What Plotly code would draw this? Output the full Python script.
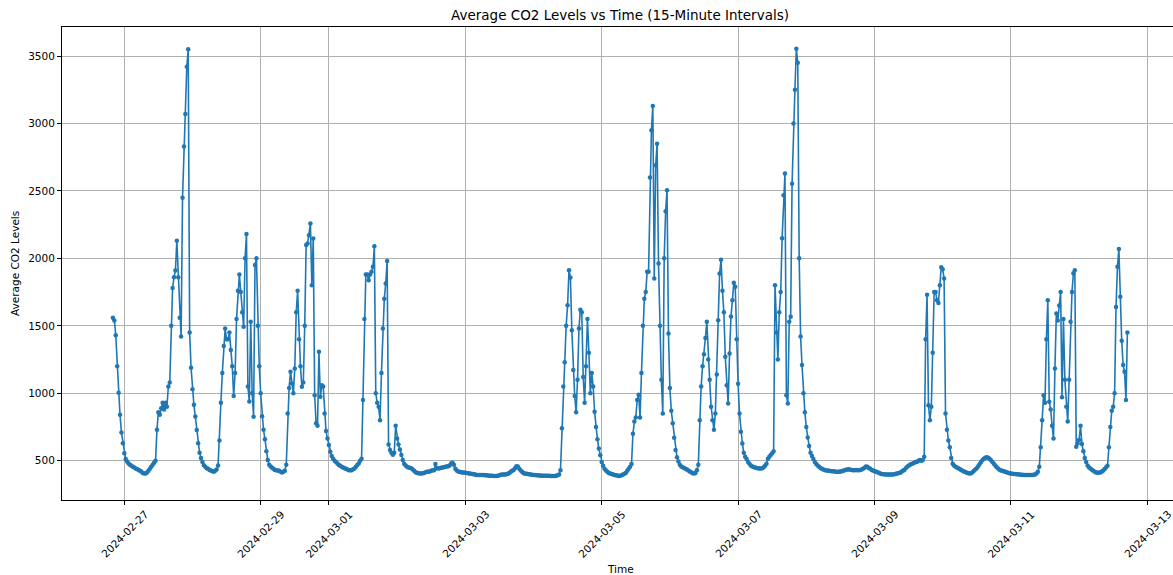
import pandas as pd
import plotly.graph_objects as go

# Average CO2 values at 30-minute steps, starting 2024-02-26 20:00
feb26 = [1560, 1540, 1430, 1200, 1004, 840, 710, 630]
feb27 = [555, 512, 495, 480, 470, 462, 455, 450, 443, 438,
         432, 425, 420, 410, 405, 405, 412, 425, 440, 455,
         470, 485, 500, 730, 860, 840, 890, 930, 880, 930,
         900, 1050, 1080, 1500, 1780, 1860, 1910, 2130, 1860, 1560,
         1420, 2450, 2830, 3070, 3420, 3550, 1450, 1190]
feb28 = [1030, 915, 827, 727, 630, 560, 520, 490, 466, 455,
         445, 440, 432, 428, 422, 418, 425, 435, 465, 650,
         930, 1150, 1350, 1480, 1400, 1400, 1450, 1320, 1200, 980,
         1150, 1550, 1760, 1880, 1750, 1600, 1493, 2000, 2180, 1050,
         940, 1530, 1000, 826, 1950, 2000, 1500, 1200]
feb29 = [1000, 830, 730, 660, 570, 505, 470, 458, 448, 440,
         432, 430, 427, 425, 418, 412, 418, 426, 470, 850,
         1040, 1160, 1073, 1000, 1184, 1600, 1760, 1400, 1200, 1048,
         1080, 1500, 2100, 2110, 2172, 2258, 1800, 2147, 986, 777,
         760, 1307, 974, 1060, 1050, 850, 720, 665]
mar01 = [616, 567, 535, 515, 500, 490, 480, 468, 462, 455,
         450, 445, 440, 435, 430, 430, 430, 437, 443, 455,
         468, 480, 500, 515, 950, 1550, 1880, 1880, 1838, 1880,
         1900, 1937, 2090, 1000, 930, 900, 800, 1150, 1480, 1700,
         1814, 1980, 620, 579, 560, 545, 560, 760]
mar02 = [665, 620, 584, 542, 505, 478, 465, 455, 450, 448,
         445, 435, 425, 415, 411, 408, 406, 406, 408, 410,
         415, 418, 418, 420, 425, 430, 430, 475, 445, 443,
         445, 448, 450, 452, 455, 458, 460, 465, 480, 485,
         470, 440, 428, 420, 418, 415, 413, 412]
mar03 = [411, 410, 408, 406, 404, 402, 400, 398, 395, 394,
         394, 394, 394, 394, 393, 392, 390, 389, 389, 388,
         387, 386, 386, 388, 392, 396, 398, 398, 398, 400,
         404, 410, 418, 425, 432, 445, 460, 458, 440, 428,
         418, 408, 405, 403, 402, 400, 398, 396]
mar04 = [395, 394, 393, 392, 390, 390, 389, 389, 389, 388,
         388, 388, 387, 387, 386, 386, 388, 392, 398, 430,
         740, 1050, 1230, 1500, 1653, 1912, 1858, 1468, 1172, 980,
         860, 1100, 1480, 1620, 1600, 1120, 930, 1200, 1550, 1300,
         1000, 1150, 1050, 863, 750, 660, 590, 540]
mar05 = [490, 462, 440, 428, 418, 410, 406, 402, 398, 395,
         392, 390, 386, 388, 392, 398, 403, 410, 425, 440,
         455, 475, 700, 790, 820, 950, 990, 820, 1150, 1500,
         1700, 1750, 1900, 1900, 2600, 2950, 3130, 1850, 2690, 2850,
         1962, 1500, 1100, 850, 2000, 2350, 2505, 1443]
mar06 = [1040, 870, 777, 670, 580, 525, 495, 470, 458, 452,
         446, 440, 435, 428, 420, 415, 408, 406, 410, 430,
         470, 800, 1050, 1200, 1290, 1410, 1530, 1250, 1100, 900,
         800, 730, 850, 1140, 1542, 1888, 1990, 1760, 1600, 1270,
         1060, 925, 1295, 1570, 1690, 1820, 1789, 1400]
mar07 = [1070, 850, 715, 628, 560, 530, 512, 490, 478, 465,
         458, 453, 450, 447, 444, 443, 443, 445, 452, 462,
         478, 515, 530, 542, 555, 570, 1800, 1450, 1250, 1600,
         1750, 2150, 2468, 2630, 986, 925, 1530, 1567, 2554, 2999,
         3250, 3554, 3450, 2000, 1420, 1209, 1000, 860]
mar08 = [750, 672, 610, 560, 535, 512, 490, 475, 465, 455,
         446, 440, 435, 431, 428, 427, 425, 424, 423, 422,
         420, 419, 418, 418, 420, 422, 426, 430, 433, 436,
         437, 434, 432, 430, 430, 431, 430, 430, 432, 436,
         440, 448, 458, 455, 447, 440, 432, 427]
mar09 = [423, 420, 415, 411, 406, 402, 400, 399, 398, 398,
         398, 398, 398, 398, 400, 403, 406, 409, 411, 418,
         425, 432, 445, 455, 462, 470, 475, 480, 485, 490,
         493, 500, 505, 500, 505, 530, 1400, 1730, 912, 801,
         900, 1300, 1750, 1750, 1690, 1670, 1800, 1935]
mar10 = [1920, 1850, 850, 730, 650, 600, 520, 478, 465, 456,
         450, 445, 438, 432, 425, 421, 416, 411, 407, 405,
         408, 415, 425, 435, 445, 460, 475, 490, 505, 515,
         522, 525, 522, 515, 503, 490, 478, 465, 452, 443,
         433, 428, 425, 423, 418, 414, 411, 408]
mar11 = [406, 404, 402, 401, 400, 399, 398, 397, 396, 395,
         394, 394, 394, 394, 394, 395, 396, 398, 405, 418,
         455, 600, 800, 986, 930, 1400, 1690, 937, 880, 760,
         665, 1184, 1591, 1540, 1650, 1750, 970, 1550, 1100, 900,
         790, 1100, 1530, 1750, 1890, 1912, 604, 628]
mar12 = [653, 760, 625, 570, 520, 490, 465, 450, 443, 433,
         425, 418, 413, 411, 412, 413, 420, 428, 438, 452,
         462, 600, 750, 870, 900, 1000, 1640, 1937, 2070, 1715,
         1390, 1209, 1160, 950, 1450]

co2 = (feb26 + feb27 + feb28 + feb29 + mar01 + mar02 + mar03 + mar04 + mar05
       + mar06 + mar07 + mar08 + mar09 + mar10 + mar11 + mar12)
times = pd.date_range("2024-02-26 20:00", periods=len(co2), freq="30min")

x_ticks = ["2024-02-27", "2024-02-29", "2024-03-01", "2024-03-03", "2024-03-05",
           "2024-03-07", "2024-03-09", "2024-03-11", "2024-03-13"]
y_ticks = [500, 1000, 1500, 2000, 2500, 3000, 3500]

FONT = "DejaVu Sans"
W, H = 1173, 575
L, R, T, B = 62, 0, 27, 75
PH = H - T - B
PW = W - L - R

fig = go.Figure(go.Scatter(
    x=times, y=co2, mode="lines+markers",
    line=dict(color="#1f77b4", width=1.6),
    marker=dict(size=4.5, color="#1f77b4"),
))

annotations = []
for d in x_ticks:
    annotations.append(dict(
        x=d, xref="x", y=-5 / PH, yref="paper", text=d, showarrow=False,
        textangle=-45, xanchor="center", yanchor="top",
        font=dict(family=FONT, size=10.5, color="#000000")))
annotations.append(dict(
    x=(620 - L) / PW, xref="paper", y=-(569 - (T + PH)) / PH, yref="paper",
    text="Time", showarrow=False, xanchor="center", yanchor="middle",
    font=dict(family=FONT, size=10.5, color="#000000")))
annotations.append(dict(
    x=(14.5 - L) / PW, xref="paper", y=0.5, yref="paper",
    text="Average CO2 Levels", showarrow=False, textangle=-90,
    xanchor="center", yanchor="middle",
    font=dict(family=FONT, size=10.5, color="#000000")))

fig.update_layout(
    width=W, height=H,
    margin=dict(l=L, r=R, t=T, b=B, pad=0),
    paper_bgcolor="white", plot_bgcolor="white",
    showlegend=False,
    font=dict(family=FONT, size=10.5, color="#000000"),
    title=dict(text="Average CO2 Levels vs Time (15-Minute Intervals)",
               x=620 / W, xref="container", xanchor="center",
               y=1 - 15 / H, yref="container", yanchor="middle",
               font=dict(family=FONT, size=13.5, color="#000000")),
    annotations=annotations,
)
fig.update_xaxes(
    type="date", range=["2024-02-26 02:05", "2024-03-13 09:03"],
    tickmode="array", tickvals=x_ticks, showticklabels=False,
    ticks="outside", ticklen=4, tickwidth=1, tickcolor="#000000",
    showgrid=True, gridcolor="#b0b0b0", gridwidth=0.8,
    showline=True, linecolor="#000000", linewidth=1, mirror=True,
    zeroline=False,
)
fig.update_yaxes(
    range=[209, 3715], tickmode="array", tickvals=y_ticks,
    ticks="outside", ticklen=4, tickwidth=1, tickcolor="#000000",
    tickfont=dict(family=FONT, size=10.5, color="#000000"),
    showgrid=True, gridcolor="#b0b0b0", gridwidth=0.8,
    showline=True, linecolor="#000000", linewidth=1, mirror=False,
    zeroline=False,
)

fig.write_html(
    "out.html",
    config={"displayModeBar": False},
    post_script="document.body.style.margin='0';document.body.style.overflow='hidden';",
)
